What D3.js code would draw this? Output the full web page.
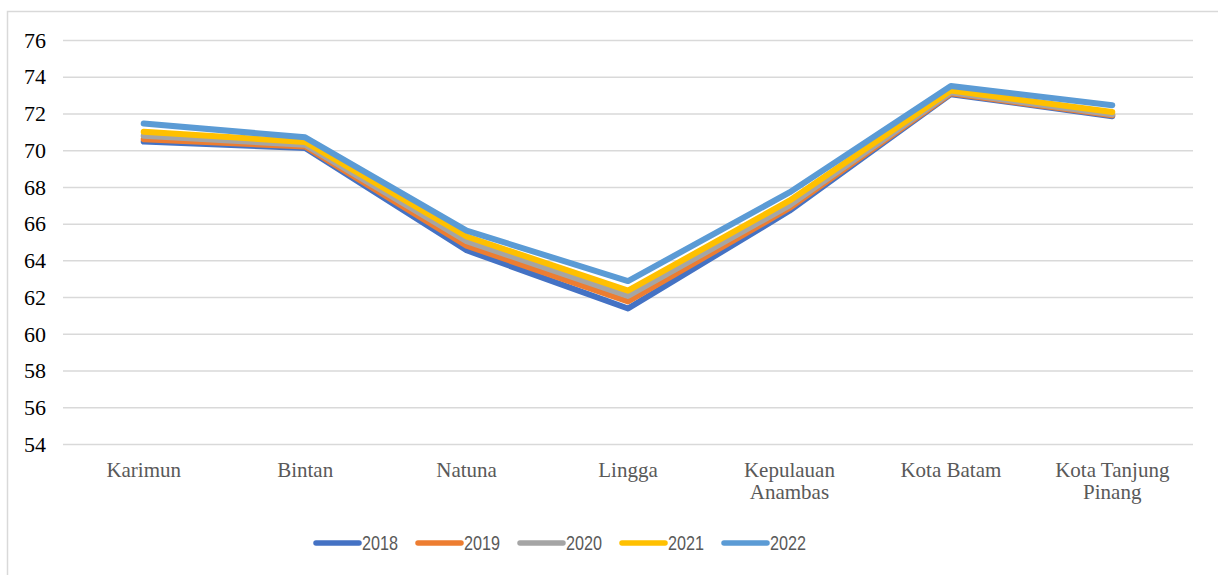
<!DOCTYPE html>
<html>
<head>
<meta charset="utf-8">
<script src="https://cdn.jsdelivr.net/npm/d3@7"></script>
<style>
  html, body { margin: 0; padding: 0; background: #fff; }
  svg { display: block; }
</style>
</head>
<body>
<svg id="chart" width="1218" height="575"></svg>
<script>
// Regencies / cities of Kepulauan Riau
const categories = ["Karimun", "Bintan", "Natuna", "Lingga", "Kepulauan Anambas", "Kota Batam", "Kota Tanjung Pinang"];
const years = ["2018", "2019", "2020", "2021", "2022"];
const colors = ["#4472c4", "#ed7d31", "#a5a5a5", "#ffc000", "#5b9bd5"];

const values2018 = [70.47, 70.12, 64.55, 61.38, 66.70, 73.05, 71.85];
const values2019 = [70.60, 70.20, 64.80, 61.76, 66.85, 73.10, 71.90];
const values2020 = [70.78, 70.30, 65.05, 62.06, 67.00, 73.15, 71.95];
const values2021 = [71.00, 70.45, 65.30, 62.35, 67.25, 73.25, 72.08];
const values2022 = [71.45, 70.70, 65.62, 62.87, 67.70, 73.50, 72.45];
const seriesValues = [values2018, values2019, values2020, values2021, values2022];

const yTicks = [54, 56, 58, 60, 62, 64, 66, 68, 70, 72, 74, 76];

const SERIF = '"Liberation Serif", "Times New Roman", "DejaVu Serif", serif';
const SANS = '"Liberation Sans", "DejaVu Sans", Arial, sans-serif';

const svg = d3.select("#chart");

// chart area frame
svg.append("rect")
  .attr("x", 7.5).attr("y", 11.5)
  .attr("width", 1218).attr("height", 575)
  .attr("fill", "none").attr("stroke", "#d9d9d9").attr("stroke-width", 1.5);

const plot = { left: 63, right: 1193, top: 40, bottom: 444 };

const x = d3.scaleBand().domain(categories).range([plot.left, plot.right]);
const y = d3.scaleLinear().domain([54, 76]).range([plot.bottom, plot.top]);

// horizontal gridlines and value labels
const yAxis = d3.axisLeft(y).tickValues(yTicks).tickSize(-(plot.right - plot.left)).tickPadding(17);
const gy = svg.append("g").attr("transform", `translate(${plot.left},0)`).call(yAxis);
gy.attr("font-family", null).attr("font-size", null);
gy.select(".domain").remove();
gy.selectAll(".tick line").attr("stroke", "#d9d9d9").attr("stroke-width", 1.5);
gy.selectAll(".tick text")
  .attr("dy", "0.33em")
  .style("font-family", SERIF)
  .style("font-size", "22px").attr("fill", "#000");

// category labels (wrapped onto two lines where needed)
const wrap = { "Kepulauan Anambas": ["Kepulauan", "Anambas"], "Kota Tanjung Pinang": ["Kota Tanjung", "Pinang"] };
const xl = svg.append("g");
categories.forEach(c => {
  const lines = wrap[c] || [c];
  const cx = x(c) + x.bandwidth() / 2;
  const t = xl.append("text")
    .attr("x", cx)
    .attr("y", 476.5)
    .attr("text-anchor", "middle")
    .style("font-family", SERIF)
    .style("font-size", "21px").attr("fill", "#595959");
  lines.forEach((l, i) => {
    t.append("tspan").attr("x", cx).attr("dy", i === 0 ? 0 : 22).text(l);
  });
});

// series lines
const line = d3.line()
  .x((d, i) => x(categories[i]) + x.bandwidth() / 2)
  .y(d => y(d));

seriesValues.forEach((vals, k) => {
  svg.append("path")
    .datum(vals)
    .attr("d", line)
    .attr("fill", "none")
    .attr("stroke", colors[k])
    .attr("stroke-width", 6)
    .attr("stroke-linecap", "round")
    .attr("stroke-linejoin", "round");
});

// legend
const legend = svg.append("g");
years.forEach((yr, k) => {
  const lx = 316 + k * 102;
  legend.append("line")
    .attr("x1", lx).attr("x2", lx + 43)
    .attr("y1", 543).attr("y2", 543)
    .attr("stroke", colors[k]).attr("stroke-width", 5.5)
    .attr("stroke-linecap", "round");
  legend.append("text")
    .attr("x", lx + 46).attr("y", 550)
    .style("font-family", SANS)
    .style("font-size", "21px").attr("fill", "#595959")
    .attr("textLength", 36).attr("lengthAdjust", "spacingAndGlyphs")
    .text(yr);
});
</script>
</body>
</html>
